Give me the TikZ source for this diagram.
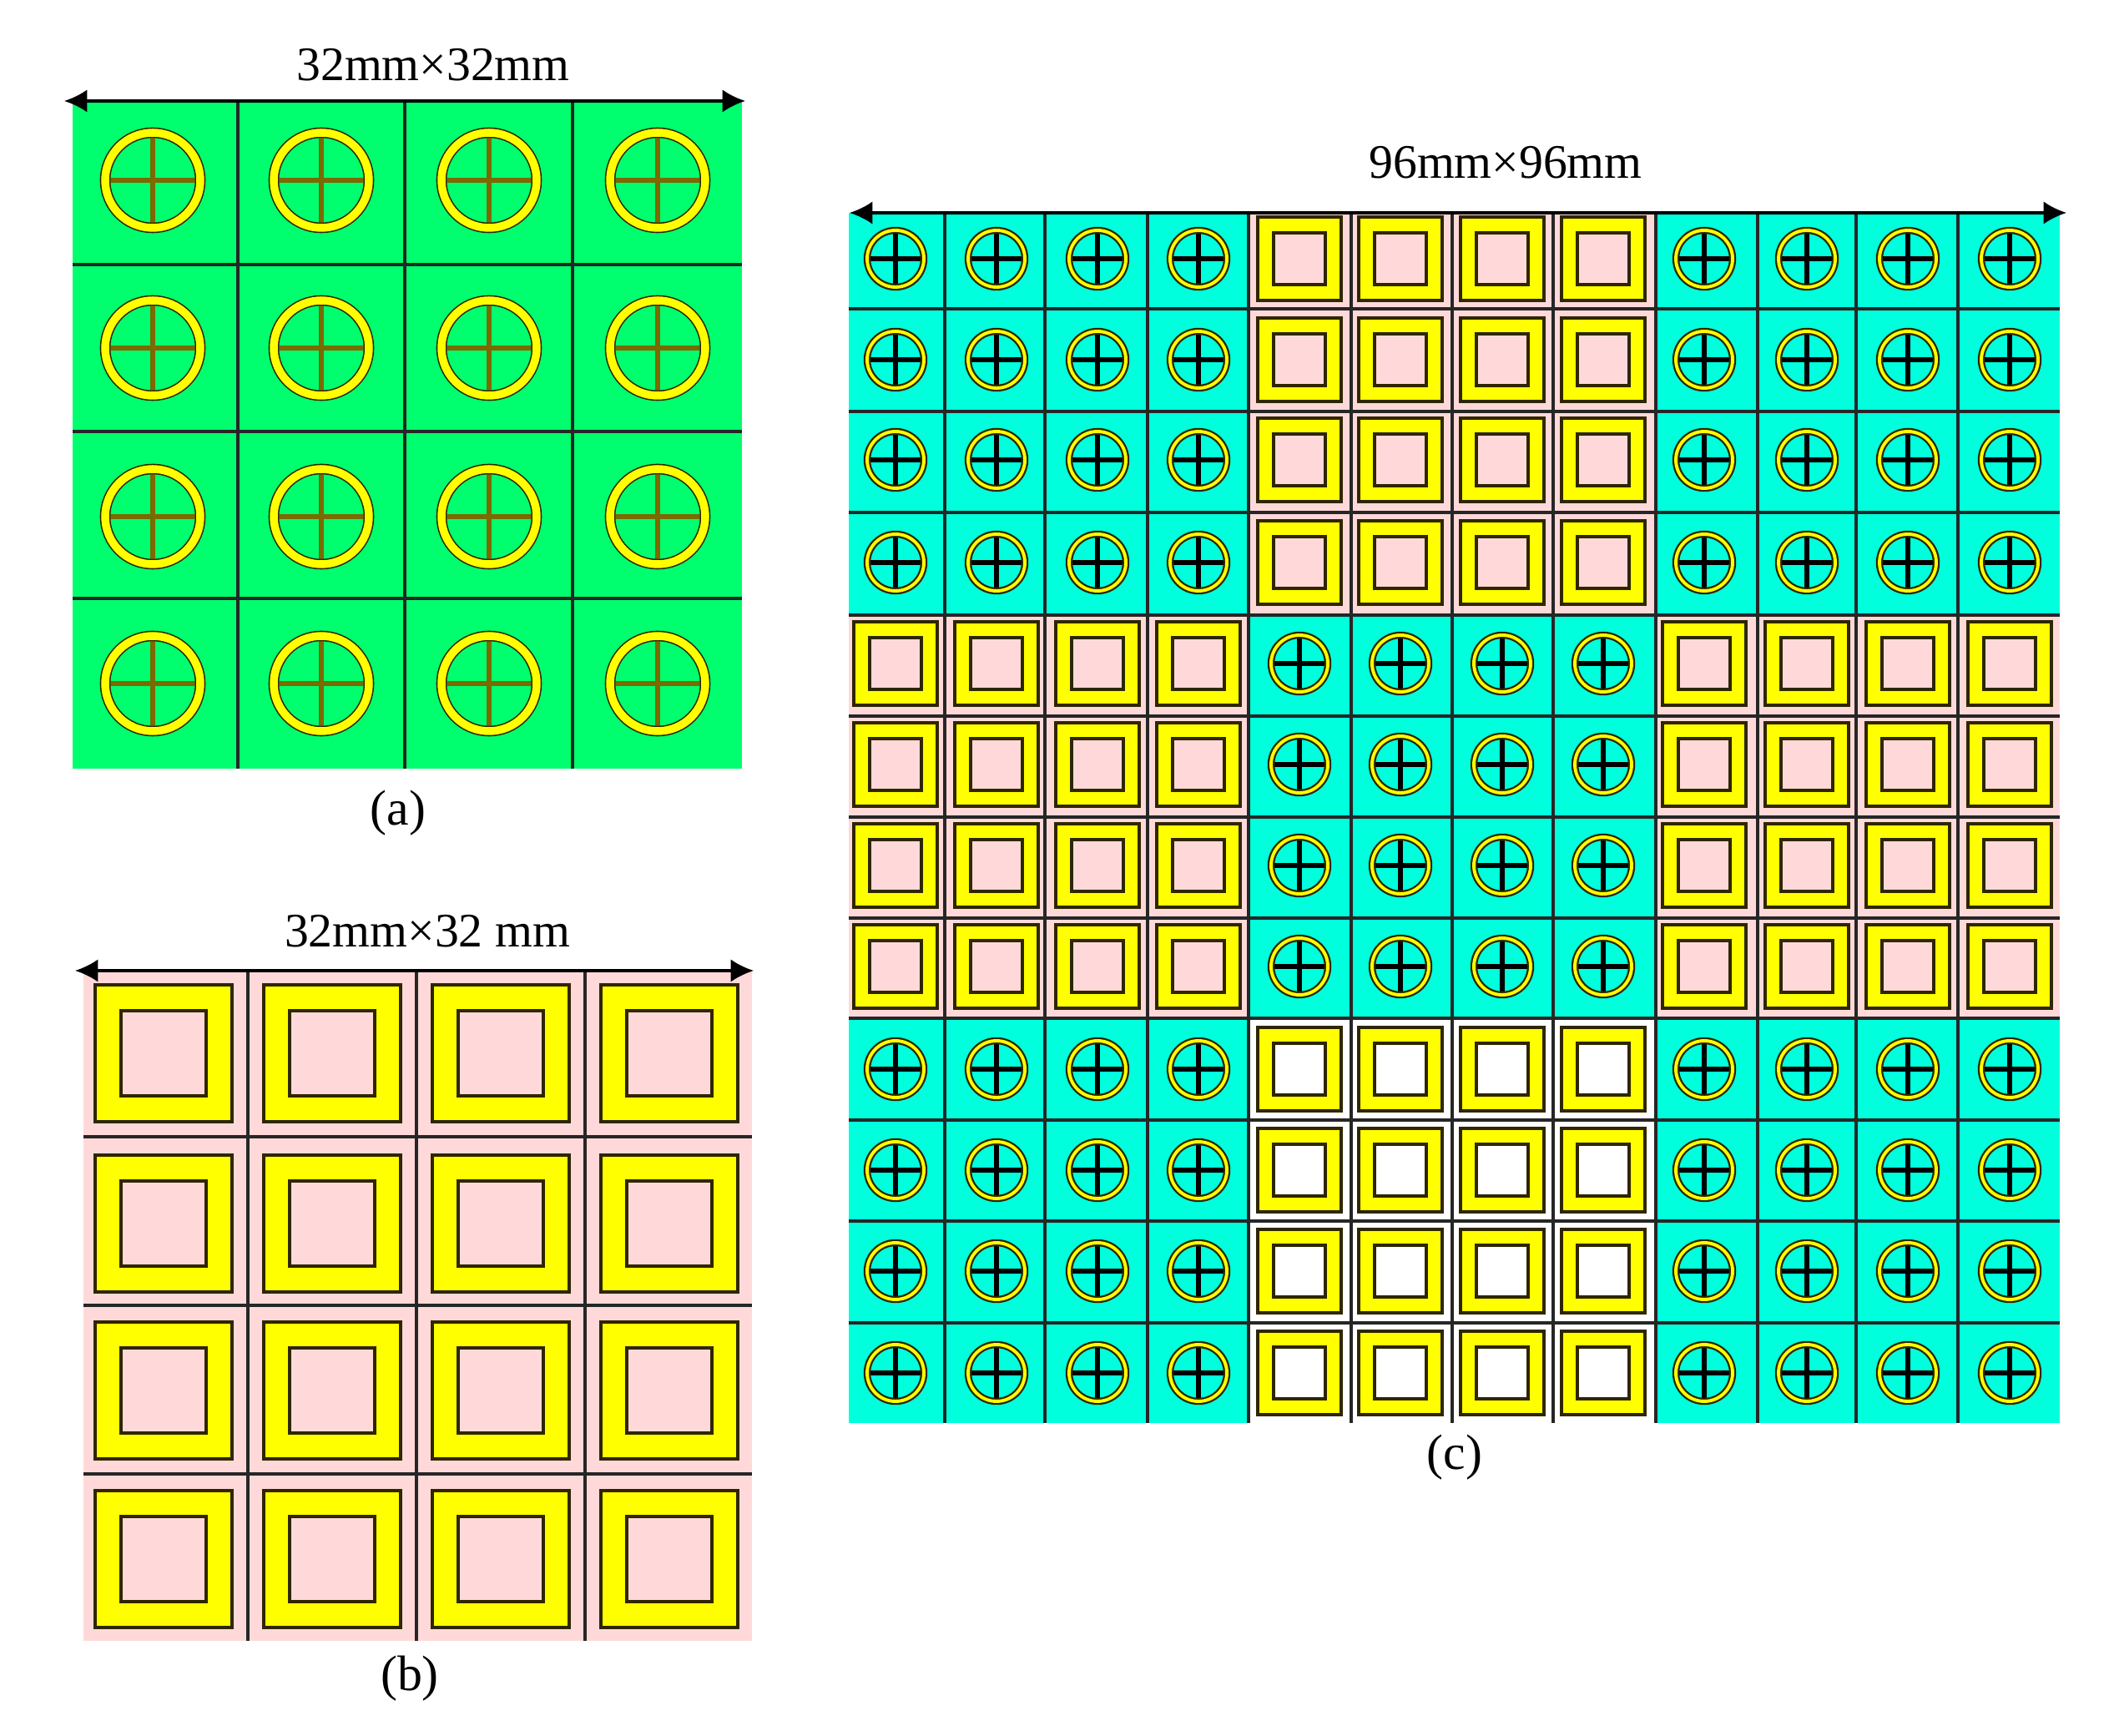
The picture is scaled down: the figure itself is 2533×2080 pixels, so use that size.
\documentclass[tikz,border=0pt]{standalone}
\usepackage{fontspec}
\setmainfont{Liberation Serif}
\usetikzlibrary{arrows.meta}

\definecolor{cellgreen}{HTML}{00FF6E}
\definecolor{cellcyan}{HTML}{00FFDD}
\definecolor{cellpink}{HTML}{FFD9D9}
\definecolor{rodyellow}{HTML}{FFFF00}
\definecolor{rodbrown}{HTML}{7A6A00}
\definecolor{rodedge}{HTML}{2E2600}

\tikzset{
    gridline/.style = {line width=0.9pt, black!85},
    sizearrow/.style = {line width=0.9pt, {Latex[length=7.8pt,width=7.8pt]}-{Latex[length=7.8pt,width=7.8pt]}},
    sizelabel/.style = {font=\fontsize{16.4}{18}\selectfont, inner sep=0pt},
    caption/.style = {font=\fontsize{17}{19}\selectfont, inner sep=0pt},
    squarerod/.style = {draw=rodedge, line width=0.9pt, fill=rodyellow}
}

% round rod of panel (a)
\newcommand{\bigrod}[2]{
    \draw [rodbrown, line width=1.7pt] (#1-53,#2) -- (#1+53,#2);
    \draw [rodbrown, line width=1.7pt] (#1,#2-53) -- (#1,#2+53);
    \draw [rodedge, line width=3.6pt] (#1,#2) circle [radius=57];
    \draw [rodyellow, line width=2.7pt] (#1,#2) circle [radius=57];
}
% round rod of panel (c)
\newcommand{\smallrod}[2]{
    \draw [black, line width=1.5pt] (#1-31,#2) -- (#1+31,#2);
    \draw [black, line width=1.5pt] (#1,#2-31) -- (#1,#2+31);
    \draw [rodedge, line width=2.4pt] (#1,#2) circle [radius=34];
    \draw [rodyellow, line width=1.1pt] (#1,#2) circle [radius=34];
}
% square rod: centre, outer half width, inner half width, hole colour
\newcommand{\boxrod}[5]{
    \draw [squarerod] (#1-#3,#2-#3) rectangle (#1+#3,#2+#3);
    \draw [squarerod, fill=#5] (#1-#4,#2-#4) rectangle (#1+#4,#2+#4);
}

\begin{document}
\begin{tikzpicture}[x=0.01cm,y=-0.01cm]
    \useasboundingbox (0,0) rectangle (2533,2080);

    % panel (a)
    \fill [cellgreen] (87,121) rectangle (889,921);
    \foreach \lx in {285,485,686}
        \draw [gridline] (\lx,121) -- (\lx,921);
    \foreach \ly in {317,517,717}
        \draw [gridline] (87,\ly) -- (889,\ly);
    \foreach \cx in {183,385,586,788} {
        \foreach \cy in {216,417,619,819} {
            \bigrod{\cx}{\cy}
        }
    }
    \coordinate (aleft) at (77,121);
    \coordinate (aright) at (893,121);
    \draw [sizearrow] (aleft) -- (aright);
    \node [sizelabel] (asize) at (519,78) {32mm×32mm};
    \node [caption] (acap) at (477,974) {(a)};

    % panel (b)
    \fill [cellpink] (100,1163) rectangle (901,1966);
    \foreach \lx in {297,499,701}
        \draw [gridline] (\lx,1163) -- (\lx,1966);
    \foreach \ly in {1362,1564,1766}
        \draw [gridline] (100,\ly) -- (901,\ly);
    \foreach \cx in {196,398,600,802} {
        \foreach \cy in {1262,1466,1666,1868} {
            \boxrod{\cx}{\cy}{82}{51}{cellpink}
        }
    }
    \coordinate (bleft) at (90,1163);
    \coordinate (bright) at (903,1163);
    \draw [sizearrow] (bleft) -- (bright);
    \node [sizelabel] (bsize) at (512,1116) {32mm×32 mm};
    \node [caption] (bcap) at (491,2011) {(b)};

    % panel (c)
    \fill [cellcyan] (1017,255) rectangle (2468,1705);
    \fill [cellpink] (1496,255) rectangle (1984,737);
    \fill [cellpink] (1017,737) rectangle (1496,1220);
    \fill [cellpink] (1984,737) rectangle (2468,1220);
    \fill [white] (1496,1220) rectangle (1984,1705);
    \foreach \lx in {1132,1252,1375,1496,1619,1740,1861,1984,2106,2224,2346}
        \draw [gridline] (\lx,255) -- (\lx,1705);
    \foreach \ly in {370,493,614,737,858,979,1100,1220,1342,1463,1585}
        \draw [gridline] (1017,\ly) -- (2468,\ly);
    \foreach \cx in {1073,1194,1315,1436,2042,2165,2286,2408} {
        \foreach \cy in {310,431,551,674,1281,1402,1523,1645} {
            \smallrod{\cx}{\cy}
        }
    }
    \foreach \cx in {1557,1678,1800,1921} {
        \foreach \cy in {795,916,1037,1158} {
            \smallrod{\cx}{\cy}
        }
    }
    \foreach \cx in {1557,1678,1800,1921} {
        \foreach \cy in {310,431,551,674} {
            \boxrod{\cx}{\cy}{50}{31}{cellpink}
        }
    }
    \foreach \cx in {1073,1194,1315,1436,2042,2165,2286,2408} {
        \foreach \cy in {795,916,1037,1158} {
            \boxrod{\cx}{\cy}{50}{31}{cellpink}
        }
    }
    \foreach \cx in {1557,1678,1800,1921} {
        \foreach \cy in {1281,1402,1523,1645} {
            \boxrod{\cx}{\cy}{50}{31}{white}
        }
    }
    \coordinate (cleft) at (1018,255);
    \coordinate (cright) at (2476,255);
    \draw [sizearrow] (cleft) -- (cright);
    \node [sizelabel] (csize) at (1804,195) {96mm×96mm};
    \node [caption] (ccap) at (1743,1746) {(c)};
\end{tikzpicture}
\end{document}
